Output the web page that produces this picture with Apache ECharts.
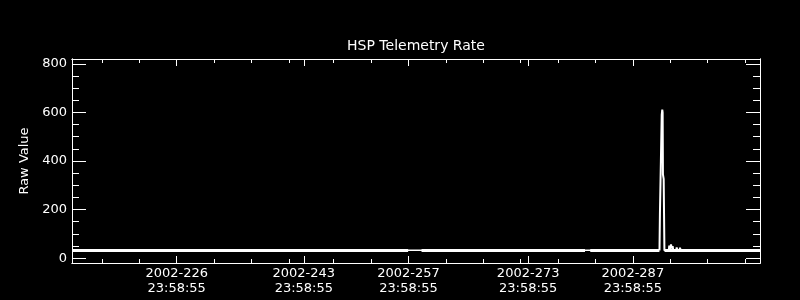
<!DOCTYPE html>
<html><head><meta charset="utf-8">
<script src="https://cdn.jsdelivr.net/npm/echarts@6/dist/echarts.min.js"></script>
<style>html,body{margin:0;padding:0;background:#000}#c{width:800px;height:300px}</style>
</head><body><div id="c"></div>
<script>
// Tick labels (day-of-year 2002, label time 23:58:55)
const majorDays = [226, 243, 257, 273, 287];
const majorYear = "2002";
const majorTime = "23:58:55";
const minorTickDays = [217,222,227,232,237,242,248,253,258,263,268,273,278,283,288,293,298,303];
const yMajorTicks = [0, 200, 400, 600, 800];
const yMinorTicks = [50,100,150,200,250,300,350,400,450,500,550,600,650,700,750,800];

// Dense telemetry band (day-of-year, raw value); '-' marks data gaps
const bandDays   = [213, 216, 220, 224, 228, 232, 236, 240, 244, 248, 252, 256, 257.95, 258.5, 259.74, 262, 266, 270, 274, 278, 281.6, 282.0, 282.3, 285, 288, 291.55, 291.9, 292.25, 295, 298, 301, 305];
const bandValues = [31.5, 31.5, 31.5, 31.5, 31.5, 31.5, 31.5, 31.5, 31.5, 31.5, 31.5, 31.5, 31.5, '-', 31.5, 31.5, 31.5, 31.5, 31.5, 31.5, 31.5, '-', 31.5, 31.5, 31.5, 31.5, '-', 31.5, 31.5, 31.5, 31.5, 31.5];

// Samples across the two data gaps
const gapDays   = [257.9, 259.8, 281.5, 282.4];
const gapValues = [33, 33, 32, 32];

// Spike near day 292 and small bumps after it
const spikeDays   = [291.56, 291.62, 291.80, 291.86, 291.93, 291.98, 292.02, 292.12, 292.20, 292.22, 292.8, 292.87, 292.95, 293.05, 293.1, 293.2, 293.32, 293.4, 293.8, 293.86, 293.95, 294.25, 294.3, 294.4];
const spikeValues = [32, 188, 188, 590, 612, 600, 345, 325, 324, 32, 32, 52, 32, 32, 56, 40, 49, 32, 32, 44, 32, 32, 43, 32];

const FONT = 'DejaVu Sans';
const tOff = 86335/86400;
const majorPos = majorDays.map(d => d + tOff);
const majorLabels = majorDays.map(d => majorYear + '-' + d + '\n' + majorTime);

const bandData = bandDays.map((d,i) => [d, bandValues[i]]);
const gapData = gapDays.map((d,i) => [d, gapValues[i]]);
const spikeData = spikeDays.map((d,i) => [d, spikeValues[i]]);

const white = '#ffffff';
function xAx(pos, ticks, len, labels) {
  return {
    type: 'value', position: pos, min: 213, max: 305,
    axisLine: {show: true, onZero: false, lineStyle: {color: white, width: 1}},
    axisTick: {show: true, inside: true, length: len, customValues: ticks, lineStyle: {color: white, width: 1}},
    axisLabel: labels ? {show: true, customValues: majorPos, color: white, fontFamily: FONT, fontSize: 13, lineHeight: 15, margin: 3,
      formatter: v => { let k = majorPos.findIndex(p => Math.abs(p - v) < 0.01); return k >= 0 ? majorLabels[k] : ''; }} : {show: false},
    splitLine: {show: false}
  };
}
function yAx(pos, ticks, len, labels, name) {
  const a = {
    type: 'value', position: pos, min: -20, max: 820,
    axisLine: {show: true, onZero: false, lineStyle: {color: white, width: 1}},
    axisTick: {show: true, inside: true, length: len, customValues: ticks, lineStyle: {color: white, width: 1}},
    axisLabel: labels ? {show: true, customValues: yMajorTicks, color: white, fontFamily: FONT, fontSize: 13, margin: 5} : {show: false},
    splitLine: {show: false}
  };
  if (name) {
    a.name = name; a.nameLocation = 'middle'; a.nameGap = 35; a.nameRotate = 90;
    a.nameTextStyle = {color: white, fontFamily: FONT, fontSize: 13};
  }
  return a;
}

const chart = echarts.init(document.getElementById('c'), null, {renderer: 'canvas'});
chart.setOption({
  backgroundColor: '#000000',
  animation: false,
  grid: {left: 72, top: 59, width: 688, height: 204},
  graphic: [{type: 'text', x: 416, y: 46, style: {text: 'HSP Telemetry Rate', fill: white, font: '14px "DejaVu Sans"', align: 'center', verticalAlign: 'middle'}}],
  xAxis: [
    xAx('bottom', majorPos, 7, true),
    xAx('bottom', minorTickDays, 4, false),
    xAx('top', majorPos, 7, false),
    xAx('top', minorTickDays, 4, false)
  ],
  yAxis: [
    yAx('left', yMajorTicks, 14, true, 'Raw Value'),
    yAx('left', yMinorTicks, 7, false),
    yAx('right', yMajorTicks, 14, false),
    yAx('right', yMinorTicks, 7, false)
  ],
  series: [
    {type: 'line', xAxisIndex: 0, yAxisIndex: 0, data: gapData, showSymbol: false, symbol: 'none',
     lineStyle: {color: white, width: 1.5}, clip: true},
    {type: 'line', xAxisIndex: 0, yAxisIndex: 0, data: spikeData, showSymbol: false, symbol: 'none',
     lineStyle: {color: white, width: 2}, clip: true},
    {type: 'line', xAxisIndex: 0, yAxisIndex: 0, data: bandData, showSymbol: false, symbol: 'none', connectNulls: false,
     lineStyle: {color: white, width: 3, cap: 'butt'}, clip: true}
  ]
});
</script></body></html>
